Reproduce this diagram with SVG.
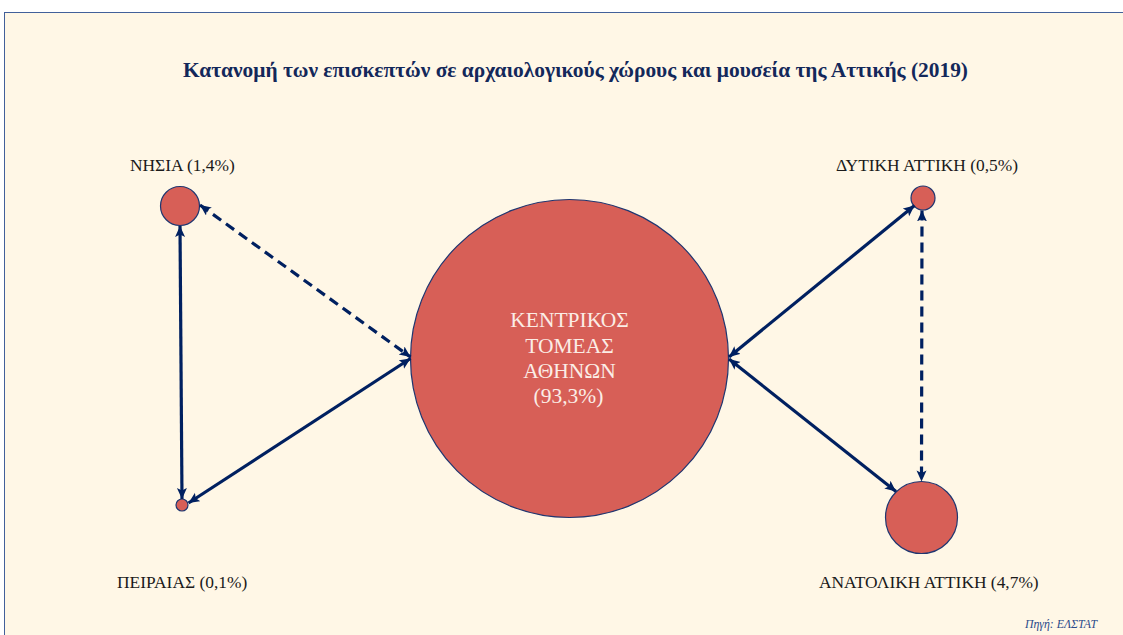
<svg xmlns="http://www.w3.org/2000/svg" width="1123" height="635" viewBox="0 0 1123 635">
  <style>
    .node { fill: #D75F57; stroke: #1F3670; stroke-width: 1.2; }
    .lbl { font-family: "Liberation Serif", "Times New Roman", serif; font-size: 17.4px; fill: #1a1a1a; }
    .ctr { font-family: "Liberation Serif", "Times New Roman", serif; font-size: 21.5px; fill: #FBEDE6; text-anchor: middle; }
    .title { font-family: "Liberation Serif", "Times New Roman", serif; font-size: 20px; font-weight: bold; fill: #13285A; }
    .src { font-family: "Liberation Serif", "Times New Roman", serif; font-size: 11.8px; font-style: italic; fill: #2B4A8A; }
    .conn { fill: none; stroke: #002060; stroke-width: 3.2; }
    .dash { stroke-dasharray: 10 6; }
  </style>
  <defs>
    <marker id="ah" markerUnits="userSpaceOnUse" markerWidth="12" markerHeight="11" refX="11" refY="5" orient="auto-start-reverse" viewBox="0 0 12 11">
      <path d="M0,0 L11,5 L0,10 L2.5,5 z" fill="#002060"/>
    </marker>
  </defs>
  <rect x="4.5" y="12.5" width="1130" height="640" fill="#FFF7E6" stroke="#42609A" stroke-width="1"/>
  <text class="title" x="183" y="77" textLength="785" lengthAdjust="spacingAndGlyphs">Κατανομή των επισκεπτών σε αρχαιολογικούς χώρους και μουσεία της Αττικής (2019)</text>

  <g id="node-central">
    <circle class="node" cx="569.5" cy="358.5" r="159"/>
    <text class="ctr" x="569.5" y="327">ΚΕΝΤΡΙΚΟΣ</text>
    <text class="ctr" x="569.5" y="353">ΤΟΜΕΑΣ</text>
    <text class="ctr" x="569.5" y="378">ΑΘΗΝΩΝ</text>
    <text class="ctr" x="568.5" y="403">(93,3%)</text>
  </g>
  <g id="node-nisia">
    <circle class="node" cx="180" cy="206" r="19.5"/>
    <text class="lbl" x="130" y="171">ΝΗΣΙΑ (1,4%)</text>
  </g>
  <g id="node-peiraias">
    <circle class="node" cx="182" cy="505" r="6"/>
    <text class="lbl" x="117" y="588">ΠΕΙΡΑΙΑΣ (0,1%)</text>
  </g>
  <g id="node-dytiki">
    <circle class="node" cx="923" cy="198" r="12"/>
    <text class="lbl" x="836" y="171">ΔΥΤΙΚΗ ΑΤΤΙΚΗ (0,5%)</text>
  </g>
  <g id="node-anatoliki">
    <circle class="node" cx="921.5" cy="517.5" r="36"/>
    <text class="lbl" x="819" y="588">ΑΝΑΤΟΛΙΚΗ ΑΤΤΙΚΗ (4,7%)</text>
  </g>

  <g id="connectors">
    <path class="conn" d="M180,226 L182,499" marker-start="url(#ah)" marker-end="url(#ah)"/>
    <path class="conn dash" d="M200,205 L410.5,357" marker-start="url(#ah)" marker-end="url(#ah)"/>
    <path class="conn" d="M188.5,503 L410.5,358.5" marker-start="url(#ah)" marker-end="url(#ah)"/>
    <path class="conn" d="M729,357 L914.5,205.5" marker-start="url(#ah)" marker-end="url(#ah)"/>
    <path class="conn" d="M729,359 L896,491.5" marker-start="url(#ah)" marker-end="url(#ah)"/>
    <path class="conn dash" d="M922,210.5 L921.5,481.5" marker-start="url(#ah)" marker-end="url(#ah)"/>
  </g>

  <text class="src" x="1025" y="628">Πηγή: ΕΛΣΤΑΤ</text>
</svg>
